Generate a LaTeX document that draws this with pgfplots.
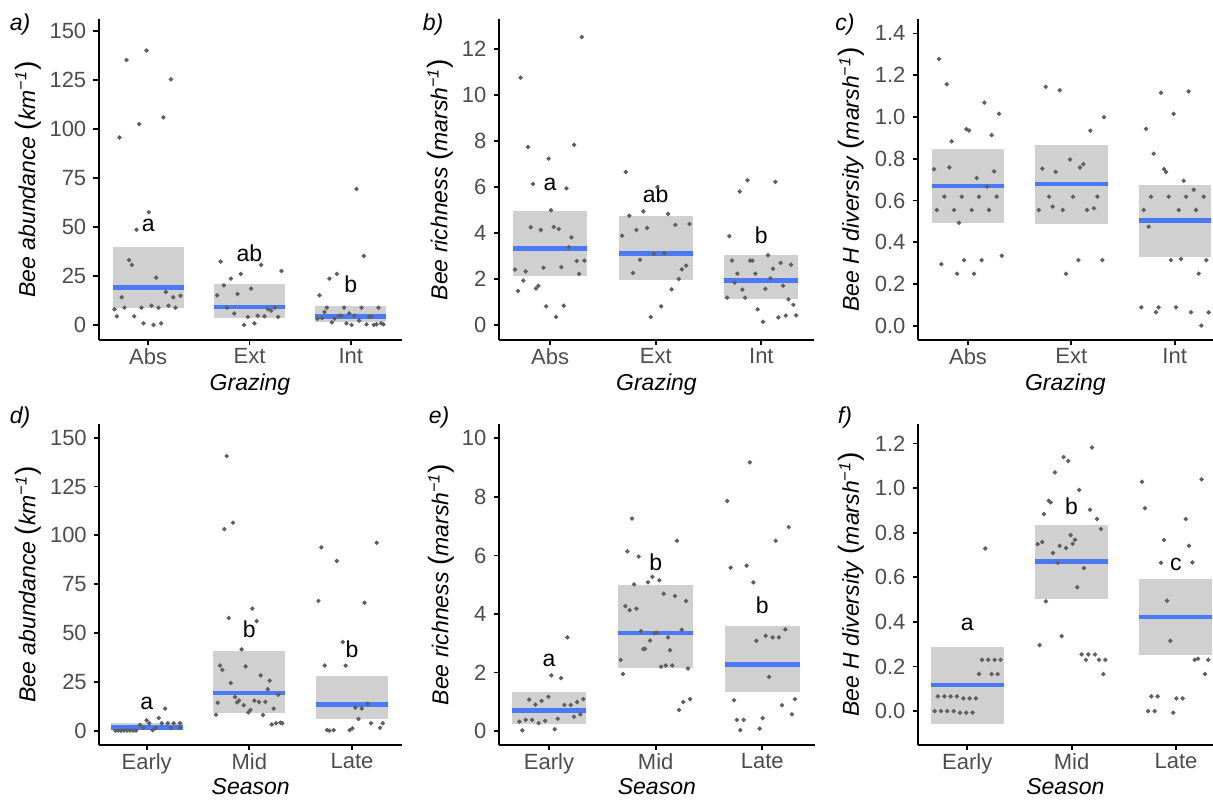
\documentclass[border=0pt]{standalone}
\usepackage{fontspec}
\setmainfont{Liberation Sans}
\usepackage{pgfplots}
\pgfplotsset{compat=1.18}

\definecolor{boxgray}{RGB}{208,208,208}
\definecolor{ptgray}{RGB}{95,95,95}
\definecolor{meanblue}{RGB}{74,121,245}
\definecolor{labgray}{RGB}{77,77,77}

\newcommand\bigpar[1]{{\fontsize{14}{14}\selectfont #1}}
\newcommand\unitlab[2]{\textit{#1}\ \bigpar{(}\textit{#2}\textsuperscript{\textit{−1}}\bigpar{)}}

\tikzset{sig/.style={anchor=base, font=\fontsize{11.5}{13}\selectfont}}
\pgfplotsset{
  panel/.style={
    scale only axis, height=160.5pt, anchor=south west,
    axis x line*=bottom, axis y line*=left,
    axis line style={-, line width=1pt},
    every tick/.style={black, line width=0.9pt},
    tick align=outside, major tick length=2.6pt,
    xtick={1,2,3},
    tick label style={font=\fontsize{11}{13}\selectfont, text=labgray},
    xticklabel style={yshift=2pt},
    /pgf/number format/assume math mode=true,
    xlabel style={at={(axis description cs:0.5,-0.140)}, anchor=center,
      font=\fontsize{11.5}{13}\selectfont\itshape},
    ylabel style={anchor=center, font=\fontsize{11.5}{13}\selectfont},
  },
  lowrow/.style={xlabel style={at={(axis description cs:0.5,-0.131)}}},
  onedec/.style={yticklabel style={/pgf/number format/.cd, fixed, fixed zerofill, precision=1}},
  pts/.style={only marks, mark=*, mark size=0.9pt, color=ptgray},
  box/.style={draw=none, fill=boxgray},
  mean/.style={meanblue, line width=2.3pt},
}

\begin{document}
\begin{tikzpicture}
\path[use as bounding box] (0,0) rectangle (606.5pt,-399.5pt);

% ---------------- a) abundance by grazing
\begin{axis}[panel, at={(49.25pt,-170pt)}, width=151.5pt,
  xmin=0.51, xmax=3.5, ymin=-7.5, ymax=156.3,
  ytick={0,25,50,75,100,125,150}, xticklabels={Abs,Ext,Int},
  xlabel={Grazing}, ylabel={\unitlab{Bee abundance}{km}},
  ylabel style={at={(axis description cs:-0.233,0.5)}}]
\addplot[box] coordinates {(0.65,9.0) (1.35,9.0) (1.35,40.0) (0.65,40.0)} -- cycle;
\addplot[box] coordinates {(1.65,3.9) (2.35,3.9) (2.35,21.1) (1.65,21.1)} -- cycle;
\addplot[box] coordinates {(2.65,1.9) (3.35,1.9) (3.35,9.9) (2.65,9.9)} -- cycle;
\addplot[mean] coordinates {(0.65,19.4) (1.35,19.4)};
\addplot[mean] coordinates {(1.65,9.4) (2.35,9.4)};
\addplot[mean] coordinates {(2.65,4.4) (3.35,4.4)};
\addplot[pts] coordinates {(0.786,135.4) (0.984,140.2) (1.224,125.5) (0.911,102.7) (1.151,106.1) (0.717,95.8) (1.007,57.7) (0.885,48.8) (0.812,33.3) (0.839,30.8) (1.079,24.3) (0.740,14.3) (1.174,17.0) (1.247,14.3) (1.319,15.1) (0.668,8.2) (0.766,9.0) (0.934,9.0) (1.033,10.0) (1.102,9.0) (1.201,10.0) (1.270,9.0) (0.691,4.6) (0.862,4.6) (0.954,1.0) (1.053,0.2) (1.128,1.0)};
\addplot[pts] coordinates {(1.714,32.5) (2.115,30.8) (2.316,27.7) (1.914,26.2) (1.816,23.8) (1.747,20.4) (2.016,18.7) (1.681,15.3) (1.882,16.0) (1.780,9.0) (2.181,8.3) (2.214,7.5) (2.250,9.0) (1.849,6.0) (1.984,4.3) (2.082,4.9) (2.148,4.6) (2.283,4.3) (1.947,0.2) (2.049,1.0)};
\addplot[pts] coordinates {(3.056,69.6) (3.128,35.4) (2.862,26.2) (2.789,23.8) (2.691,15.3) (2.763,9.0) (2.934,9.0) (3.105,9.0) (3.273,9.0) (2.740,6.8) (2.885,4.9) (2.908,4.9) (2.984,6.0) (3.033,4.9) (3.178,4.3) (3.204,4.6) (2.671,3.4) (2.717,3.7) (2.839,3.4) (3.082,2.4) (2.813,1.5) (2.957,1.0) (3.007,0.2) (3.155,0.5) (3.227,0.2) (3.253,0.5) (3.299,1.0) (3.322,0.5)};
\node[sig] at (axis cs:1,47.8) {a};
\node[sig] at (axis cs:2,32.5) {ab};
\node[sig] at (axis cs:3,16.7) {b};
\end{axis}

% ---------------- b) richness by grazing
\begin{axis}[panel, at={(249.35pt,-170pt)}, width=157.75pt,
  xmin=0.514, xmax=3.5, ymin=-0.652, ymax=13.3,
  ytick={0,2,4,6,8,10,12}, xticklabels={Abs,Ext,Int},
  xlabel={Grazing}, ylabel={\unitlab{Bee richness}{marsh}},
  ylabel style={at={(axis description cs:-0.186,0.5)}}]
\addplot[box] coordinates {(0.65,2.13) (1.35,2.13) (1.35,4.96) (0.65,4.96)} -- cycle;
\addplot[box] coordinates {(1.65,1.97) (2.35,1.97) (2.35,4.74) (1.65,4.74)} -- cycle;
\addplot[box] coordinates {(2.65,1.14) (3.35,1.14) (3.35,3.04) (2.65,3.04)} -- cycle;
\addplot[mean] coordinates {(0.65,3.33) (1.35,3.33)};
\addplot[mean] coordinates {(1.65,3.12) (2.35,3.12)};
\addplot[mean] coordinates {(2.65,1.94) (3.35,1.94)};
\addplot[pts] coordinates {(1.300,12.52) (0.722,10.75) (0.791,7.74) (1.227,7.83) (0.987,7.23) (0.839,6.13) (1.155,5.94) (1.009,4.99) (0.817,4.25) (0.912,4.13) (1.035,4.26) (1.082,4.17) (1.202,3.81) (1.177,3.38) (1.253,2.78) (1.325,2.80) (0.668,2.41) (0.769,2.33) (0.937,2.49) (1.107,2.52) (1.275,2.22) (0.747,1.93) (0.867,1.59) (0.889,1.70) (0.697,1.48) (0.962,0.81) (1.130,0.84) (1.057,0.35)};
\addplot[pts] coordinates {(1.716,6.65) (2.016,5.99) (1.750,4.75) (1.883,4.94) (2.117,4.83) (1.817,4.13) (1.918,4.22) (2.186,4.35) (2.319,4.39) (1.682,3.88) (1.984,3.10) (2.082,3.12) (1.851,2.84) (2.287,2.58) (2.248,2.42) (1.785,2.26) (2.217,2.00) (2.150,1.55) (2.051,0.81) (1.953,0.35)};
\addplot[pts] coordinates {(2.868,6.29) (3.133,6.22) (2.795,5.80) (2.697,3.86) (2.722,2.80) (2.893,2.80) (2.915,2.80) (3.063,3.03) (3.183,2.70) (3.281,2.62) (2.773,2.23) (2.943,2.23) (3.110,2.45) (3.085,2.03) (2.747,1.84) (2.820,1.54) (3.038,1.57) (3.205,1.71) (2.675,1.19) (2.845,1.19) (3.256,1.12) (3.303,0.88) (2.965,0.68) (3.161,0.33) (3.231,0.41) (3.329,0.42) (3.016,0.14)};
\node[sig] at (axis cs:1,5.83) {a};
\node[sig] at (axis cs:2,5.32) {ab};
\node[sig] at (axis cs:3,3.55) {b};
\end{axis}

% ---------------- c) diversity by grazing
\begin{axis}[panel, onedec, at={(458.85pt,-170pt)}, width=147.65pt,
  xmin=0.513, xmax=3.371, ymin=-0.0686, ymax=1.469,
  ytick={0,0.2,0.4,0.6,0.8,1.0,1.2,1.4}, xticklabels={Abs,Ext,Int},
  xlabel={Grazing}, ylabel={\unitlab{Bee H diversity}{marsh}},
  ylabel style={at={(axis description cs:-0.2235,0.5)}}]
\addplot[box] coordinates {(0.65,0.493) (1.35,0.493) (1.35,0.844) (0.65,0.844)} -- cycle;
\addplot[box] coordinates {(1.65,0.488) (2.35,0.488) (2.35,0.864) (1.65,0.864)} -- cycle;
\addplot[box] coordinates {(2.65,0.330) (3.35,0.330) (3.35,0.674) (2.65,0.674)} -- cycle;
\addplot[mean] coordinates {(0.65,0.670) (1.35,0.670)};
\addplot[mean] coordinates {(1.65,0.678) (2.35,0.678)};
\addplot[mean] coordinates {(2.65,0.504) (3.35,0.504)};
\addplot[pts] coordinates {(0.719,1.277) (0.794,1.157) (1.158,1.068) (1.300,1.015) (0.984,0.942) (1.010,0.935) (1.229,0.913) (0.842,0.883) (0.671,0.749) (0.819,0.758) (1.084,0.707) (1.252,0.739) (1.184,0.666) (0.771,0.618) (0.939,0.618) (1.106,0.618) (1.277,0.618) (0.697,0.554) (0.865,0.554) (1.035,0.554) (1.203,0.554) (0.913,0.493) (0.742,0.295) (0.961,0.314) (1.132,0.314) (1.326,0.335) (0.894,0.249) (1.058,0.249)};
\addplot[pts] coordinates {(1.752,1.144) (1.887,1.128) (2.316,0.998) (2.184,0.934) (1.987,0.796) (2.116,0.774) (2.084,0.758) (1.719,0.752) (1.848,0.737) (1.784,0.618) (2.016,0.618) (2.252,0.618) (1.684,0.554) (1.819,0.570) (1.916,0.554) (2.152,0.554) (2.219,0.562) (2.068,0.314) (2.300,0.314) (1.948,0.249)};
\addplot[pts] coordinates {(2.868,1.116) (3.135,1.122) (2.990,1.015) (2.723,0.943) (2.797,0.824) (2.897,0.750) (2.916,0.736) (3.087,0.694) (3.184,0.651) (2.771,0.618) (2.942,0.618) (3.110,0.618) (3.281,0.618) (2.700,0.554) (3.039,0.554) (3.206,0.554) (2.748,0.474) (2.964,0.314) (3.061,0.319) (3.306,0.314) (3.232,0.249) (2.677,0.088) (2.845,0.088) (3.013,0.088) (2.819,0.064) (3.158,0.064) (3.329,0.064) (3.258,0.000)};
\end{axis}

% ---------------- d) abundance by season
\begin{axis}[panel, lowrow, at={(49.5pt,-372.5pt)}, width=151.7pt,
  xmin=0.536, xmax=3.49, ymin=-7.34, ymax=157.0,
  ytick={0,25,50,75,100,125,150}, xticklabels={Early,Mid,Late},
  xlabel={Season}, ylabel={\unitlab{Bee abundance}{km}},
  ylabel style={at={(axis description cs:-0.234,0.5)}}]
\addplot[box] coordinates {(0.65,0.3) (1.35,0.3) (1.35,3.9) (0.65,3.9)} -- cycle;
\addplot[box] coordinates {(1.65,9.2) (2.35,9.2) (2.35,40.8) (1.65,40.8)} -- cycle;
\addplot[box] coordinates {(2.65,5.8) (3.35,5.8) (3.35,28.0) (2.65,28.0)} -- cycle;
\addplot[mean] coordinates {(0.65,1.5) (1.35,1.5)};
\addplot[mean] coordinates {(1.65,19.3) (2.35,19.3)};
\addplot[mean] coordinates {(2.65,13.3) (3.35,13.3)};
\addplot[pts] coordinates {(1.179,11.3) (1.117,6.5) (1.000,5.3) (0.935,2.9) (1.026,3.8) (0.968,1.5) (1.058,0.3) (1.088,1.4) (1.146,3.8) (1.205,3.8) (1.263,3.8) (1.325,3.8) (1.237,1.5) (1.325,1.5) (0.695,0) (0.724,0.1) (0.750,0) (0.779,0.1) (0.808,0.1) (0.838,0.1) (0.867,0.1) (0.896,0.1)};
\addplot[pts] coordinates {(1.779,140.6) (1.756,103.2) (1.841,106.5) (2.029,62.5) (2.071,56.1) (1.799,57.7) (1.925,41.6) (1.714,33.4) (1.737,31.1) (1.964,32.9) (2.110,28.3) (2.198,25.6) (1.818,24.4) (2.179,21.2) (2.282,18.4) (1.860,17.2) (1.899,15.5) (1.880,14.5) (1.945,13.0) (1.692,14.3) (2.049,15.4) (2.094,14.7) (2.156,14.7) (2.237,11.3) (2.010,10.6) (1.990,9.4) (1.675,8.2) (2.133,8.0) (2.218,3.2) (2.260,3.8) (2.302,4.1) (2.321,3.8)};
\addplot[pts] coordinates {(3.240,96.2) (2.701,93.9) (2.851,86.9) (2.672,66.4) (3.120,65.5) (2.909,45.4) (2.734,33.4) (2.938,33.3) (3.153,13.8) (3.032,11.8) (3.094,11.4) (3.062,6.0) (3.185,3.8) (3.299,3.8) (3.273,1.5) (3.003,1.2) (2.977,0.3) (2.756,0.3) (2.779,0) (2.821,0.3)};
\node[sig] at (axis cs:1,10.6) {a};
\node[sig] at (axis cs:2,47.8) {b};
\node[sig] at (axis cs:3,37.4) {b};
\end{axis}

% ---------------- e) richness by season
\begin{axis}[panel, lowrow, at={(249.35pt,-372.5pt)}, width=158.15pt,
  xmin=0.528, xmax=3.494, ymin=-0.478, ymax=10.49,
  ytick={0,2,4,6,8,10}, xticklabels={Early,Mid,Late},
  xlabel={Season}, ylabel={\unitlab{Bee richness}{marsh}},
  ylabel style={at={(axis description cs:-0.182,0.5)}}]
\addplot[box] coordinates {(0.65,0.25) (1.35,0.25) (1.35,1.33) (0.65,1.33)} -- cycle;
\addplot[box] coordinates {(1.65,2.16) (2.35,2.16) (2.35,4.99) (1.65,4.99)} -- cycle;
\addplot[box] coordinates {(2.65,1.34) (3.35,1.34) (3.35,3.59) (2.65,3.59)} -- cycle;
\addplot[mean] coordinates {(0.65,0.71) (1.35,0.71)};
\addplot[mean] coordinates {(1.65,3.35) (2.35,3.35)};
\addplot[mean] coordinates {(2.65,2.28) (3.35,2.28)};
\addplot[pts] coordinates {(1.172,3.20) (1.022,1.90) (1.113,1.81) (0.994,1.17) (0.813,1.07) (0.931,1.03) (1.322,1.09) (0.872,0.90) (1.144,0.89) (1.203,0.89) (1.263,0.99) (1.294,0.57) (1.234,0.49) (0.722,0.32) (0.781,0.38) (0.841,0.38) (0.903,0.27) (0.963,0.35) (1.081,0.42) (0.750,0.02) (1.053,0.06)};
\addplot[pts] coordinates {(1.778,7.26) (2.200,6.50) (1.734,6.14) (1.841,5.96) (1.969,5.27) (1.928,5.08) (2.034,5.15) (1.797,5.01) (2.075,4.69) (2.181,4.61) (2.284,4.44) (1.716,4.27) (1.756,4.13) (1.819,4.18) (1.863,3.41) (1.988,3.34) (2.013,3.36) (2.244,3.46) (2.116,3.20) (1.947,3.09) (1.884,2.80) (1.900,2.81) (2.134,2.76) (1.672,2.43) (2.094,2.24) (2.050,2.20) (2.156,2.24) (2.303,2.14) (1.694,1.95) (2.322,1.09) (2.259,0.99) (2.219,0.72)};
\addplot[pts] coordinates {(2.884,9.18) (2.672,7.86) (3.247,6.97) (3.125,6.50) (2.703,5.58) (2.853,5.65) (2.916,5.08) (3.216,3.47) (2.944,3.08) (3.031,3.25) (3.097,3.20) (3.156,3.20) (3.063,1.85) (2.734,1.05) (3.306,1.09) (3.184,0.88) (3.278,0.57) (2.762,0.38) (2.825,0.38) (3.003,0.44) (2.794,0.03) (2.975,0.08)};
\node[sig] at (axis cs:1,2.22) {a};
\node[sig] at (axis cs:2,5.50) {b};
\node[sig] at (axis cs:3,4.02) {b};
\end{axis}

% ---------------- f) diversity by season
\begin{axis}[panel, lowrow, onedec, at={(458.85pt,-372.5pt)}, width=147.65pt,
  xmin=0.525, xmax=3.355, ymin=-0.152, ymax=1.287,
  ytick={0,0.2,0.4,0.6,0.8,1.0,1.2}, xticklabels={Early,Mid,Late},
  xlabel={Season}, ylabel={\unitlab{Bee H diversity}{marsh}},
  ylabel style={at={(axis description cs:-0.2235,0.5)}}]
\addplot[box] coordinates {(0.65,-0.057) (1.35,-0.057) (1.35,0.287) (0.65,0.287)} -- cycle;
\addplot[box] coordinates {(1.65,0.504) (2.35,0.504) (2.35,0.834) (1.65,0.834)} -- cycle;
\addplot[box] coordinates {(2.65,0.253) (3.35,0.253) (3.35,0.592) (2.65,0.592)} -- cycle;
\addplot[mean] coordinates {(0.65,0.117) (1.35,0.117)};
\addplot[mean] coordinates {(1.65,0.670) (2.35,0.670)};
\addplot[mean] coordinates {(2.65,0.422) (3.35,0.422)};
\addplot[pts] coordinates {(1.173,0.729) (1.141,0.230) (1.201,0.230) (1.262,0.230) (1.319,0.230) (1.112,0.166) (1.233,0.166) (1.291,0.166) (0.719,0.066) (0.780,0.066) (0.840,0.066) (0.901,0.066) (0.962,0.057) (1.022,0.057) (1.083,0.057) (0.687,0.000) (0.748,0.000) (0.808,0.000) (0.869,0.000) (0.930,-0.007) (0.990,-0.007) (1.051,-0.007)};
\addplot[pts] coordinates {(2.195,1.182) (1.923,1.139) (1.968,1.121) (1.840,1.070) (2.073,0.991) (1.780,0.943) (1.799,0.936) (1.735,0.883) (2.176,0.903) (2.243,0.861) (2.281,0.816) (1.990,0.789) (2.032,0.768) (1.674,0.749) (1.719,0.758) (1.885,0.741) (1.946,0.731) (2.010,0.750) (1.821,0.709) (1.866,0.665) (2.118,0.641) (2.054,0.555) (1.754,0.492) (1.904,0.336) (1.693,0.296) (2.096,0.254) (2.160,0.254) (2.224,0.254) (2.137,0.230) (2.262,0.230) (2.323,0.230) (2.304,0.166)};
\addplot[pts] coordinates {(3.246,1.039) (2.674,1.028) (2.703,0.909) (3.093,0.861) (2.885,0.767) (3.125,0.741) (2.856,0.665) (3.157,0.667) (2.914,0.495) (2.946,0.315) (3.179,0.230) (3.211,0.235) (3.310,0.230) (3.278,0.166) (2.764,0.066) (2.824,0.066) (3.003,0.057) (3.064,0.057) (2.734,0.000) (2.795,0.000) (2.974,-0.007)};
\node[sig] at (axis cs:1,0.363) {a};
\node[sig] at (axis cs:2,0.882) {b};
\node[sig] at (axis cs:3,0.632) {c};
\end{axis}

% panel tags
\begin{scope}[every node/.style={font=\fontsize{11.5}{13}\selectfont\itshape}]
\node at (10pt,-12.5pt) {a)};
\node at (216.5pt,-12.5pt) {b)};
\node at (422.5pt,-12.5pt) {c)};
\node at (10pt,-209pt) {d)};
\node at (219.5pt,-209pt) {e)};
\node at (422.5pt,-209pt) {f)};
\end{scope}
\end{tikzpicture}
\end{document}
